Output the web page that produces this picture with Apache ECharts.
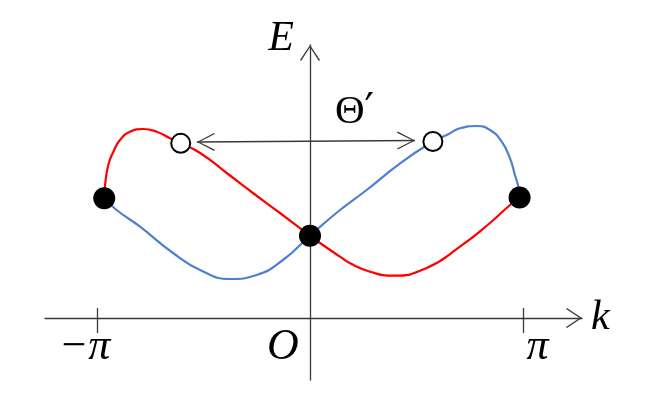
<!DOCTYPE html>
<html>
<head>
<meta charset="utf-8">
<script src="https://cdn.jsdelivr.net/npm/echarts@6/dist/echarts.min.js"></script>
<style>
  html, body { margin: 0; padding: 0; background: #fff; }
  #chart_view_id { width: 664px; height: 420px; }
</style>
</head>
<body>
<div id="chart_view_id"></div>
<script>
// k in units of pi, E in arbitrary units
const red_k = [-0.966, -0.962, -0.947, -0.923, -0.892, -0.845, -0.783, -0.720, -0.657, -0.607,
  -0.516, -0.391, -0.268, -0.141, 0, 0.047, 0.141, 0.188, 0.282, 0.390, 0.548, 0.704, 0.845, 0.939, 0.984];
const red_e = [1.197, 1.33, 1.53, 1.663, 1.78, 1.863, 1.89, 1.863, 1.797, 1.747,
  1.65, 1.45, 1.25, 1.05, 0.823, 0.75, 0.613, 0.547, 0.463, 0.423, 0.50, 0.713, 0.95, 1.13, 1.205];
const blue_k = [-0.966, -0.908, -0.798, -0.643, -0.516, -0.376, -0.250, -0.127, 0, 0.141, 0.266,
  0.423, 0.577, 0.642, 0.704, 0.783, 0.845, 0.900, 0.939, 0.962, 0.978, 0.984];
const blue_e = [1.197, 1.08, 0.913, 0.65, 0.48, 0.39, 0.43, 0.58, 0.823, 1.08, 1.28,
  1.547, 1.765, 1.83, 1.897, 1.92, 1.88, 1.763, 1.597, 1.43, 1.313, 1.205];
// filled and open states
const dot_k = [-0.966, 0, 0.984];
const dot_e = [1.197, 0.823, 1.205];
const open_k = [-0.607, 0.577];
const open_e = [1.747, 1.765];
// double arrow between open states
const arrow_k = [-0.531, 0.493];
const arrow_e = [1.76, 1.775];
const tick_values = [-1, 0, 1];
const tick_text = ['{a|−π}', '{o|O}', '{p|π}'];
// upper half of the tick marks at -pi and pi
const tick_up = 0.1;

const pair = (xs, ys) => xs.map((x, i) => [x, ys[i]]);
const chevron_axis = 'path://M10 0 L20 15 L18.9 15.9 L10 2.3 L1.1 15.9 L0 15 Z';
const chevron_mark = 'path://M9 0 L18 17 L16.9 17.8 L9 2.4 L1.1 17.8 L0 17 Z';
const axis_color = '#3a3a3a';
const math_font = '"Liberation Serif", "DejaVu Serif", serif';
const label_style = { fontFamily: math_font, fontStyle: 'italic', fontWeight: 'normal', fontSize: 44, lineHeight: 44, color: '#000' };

const chart = echarts.init(document.getElementById('chart_view_id'));
chart.setOption({
  animation: false,
  title: {
    text: '{t|Θ}{q|′}',
    left: 330,
    top: 86,
    textStyle: {
      fontWeight: 'normal',
      rich: {
        t: { fontFamily: math_font, fontWeight: 'normal', fontSize: 41, color: '#000' },
        q: { fontFamily: '"DejaVu Serif", serif', fontWeight: 'normal', fontSize: 42, color: '#000' }
      }
    }
  },
  grid: { left: 45, right: 82, top: 45, bottom: 40, containLabel: false, outerBoundsMode: 'none' },
  xAxis: {
    type: 'value',
    min: -1.2441,
    max: 1.2770,
    name: 'k',
    nameLocation: 'end',
    nameGap: 9,
    nameTextStyle: { fontFamily: math_font, fontStyle: 'italic', fontSize: 42, color: '#000', padding: [0, 0, 26, 0] },
    axisLine: {
      onZero: true,
      symbol: ['none', chevron_axis],
      symbolSize: [20, 16],
      symbolOffset: [0, -8],
      lineStyle: { color: axis_color, width: 1.3 }
    },
    axisTick: { show: true, customValues: [-1, 1], length: 15, lineStyle: { color: axis_color, width: 1.3 } },
    axisLabel: { show: false },
    splitLine: { show: false }
  },
  yAxis: {
    type: 'value',
    min: -0.62,
    max: 2.73,
    name: 'E',
    nameLocation: 'end',
    nameGap: -15,
    nameTextStyle: { fontFamily: math_font, fontStyle: 'italic', fontSize: 42, color: '#000', padding: [0, 58, 0, 0] },
    axisLine: {
      onZero: true,
      symbol: ['none', chevron_axis],
      symbolSize: [20, 16],
      symbolOffset: [0, -8],
      lineStyle: { color: axis_color, width: 1.3 }
    },
    axisTick: { show: false },
    axisLabel: { show: false },
    splitLine: { show: false }
  },
  series: [{
    name: 'red',
    type: 'line',
    data: pair(red_k, red_e),
    smooth: 0.5,
    showSymbol: false,
    lineStyle: { color: '#ff0000', width: 2.2 },
    z: 3,
    markLine: {
      silent: true,
      symbol: [chevron_mark, chevron_mark],
      symbolSize: [18, 18],
      symbolOffset: [[0, 9], [0, 9]],
      label: { show: false },
      lineStyle: { color: axis_color, width: 1.3, type: 'solid' },
      data: [[{ coord: [arrow_k[0], arrow_e[0]] }, { coord: [arrow_k[1], arrow_e[1]] }]]
    }
  }, {
    name: 'blue',
    type: 'line',
    data: pair(blue_k, blue_e),
    smooth: 0.5,
    showSymbol: false,
    lineStyle: { color: '#4e7fd0', width: 2.2 },
    z: 3
  }, {
    // tick labels under the k axis and the upper half of the ticks
    name: 'ticks',
    type: 'scatter',
    data: tick_values.map(v => [v, 0]),
    symbolSize: 0,
    silent: true,
    itemStyle: { opacity: 1 },
    label: {
      show: true,
      position: 'bottom',
      distance: 7,
      color: '#000',
      textBorderWidth: 0,
      formatter: p => tick_text[p.dataIndex],
      rich: {
        a: Object.assign({}, label_style, { padding: [0, 25, 0, 0] }),
        o: Object.assign({}, label_style, { padding: [0, 54, 0, 0] }),
        p: Object.assign({}, label_style, { padding: [0, 0, 0, 29] })
      }
    },
    markLine: {
      silent: true,
      symbol: ['none', 'none'],
      label: { show: false },
      lineStyle: { color: axis_color, width: 1.3, type: 'solid' },
      data: [[{ coord: [-1, 0] }, { coord: [-1, tick_up] }], [{ coord: [1, 0] }, { coord: [1, tick_up] }]]
    }
  }, {
    name: 'filled',
    type: 'scatter',
    data: pair(dot_k, dot_e),
    symbol: 'circle',
    symbolSize: 22,
    itemStyle: { color: '#000', opacity: 1 },
    z: 5
  }, {
    name: 'open',
    type: 'scatter',
    data: pair(open_k, open_e),
    symbol: 'circle',
    symbolSize: 19,
    itemStyle: { color: '#fff', borderColor: '#000', borderWidth: 2, opacity: 1 },
    z: 5
  }]
});
</script>
</body>
</html>
